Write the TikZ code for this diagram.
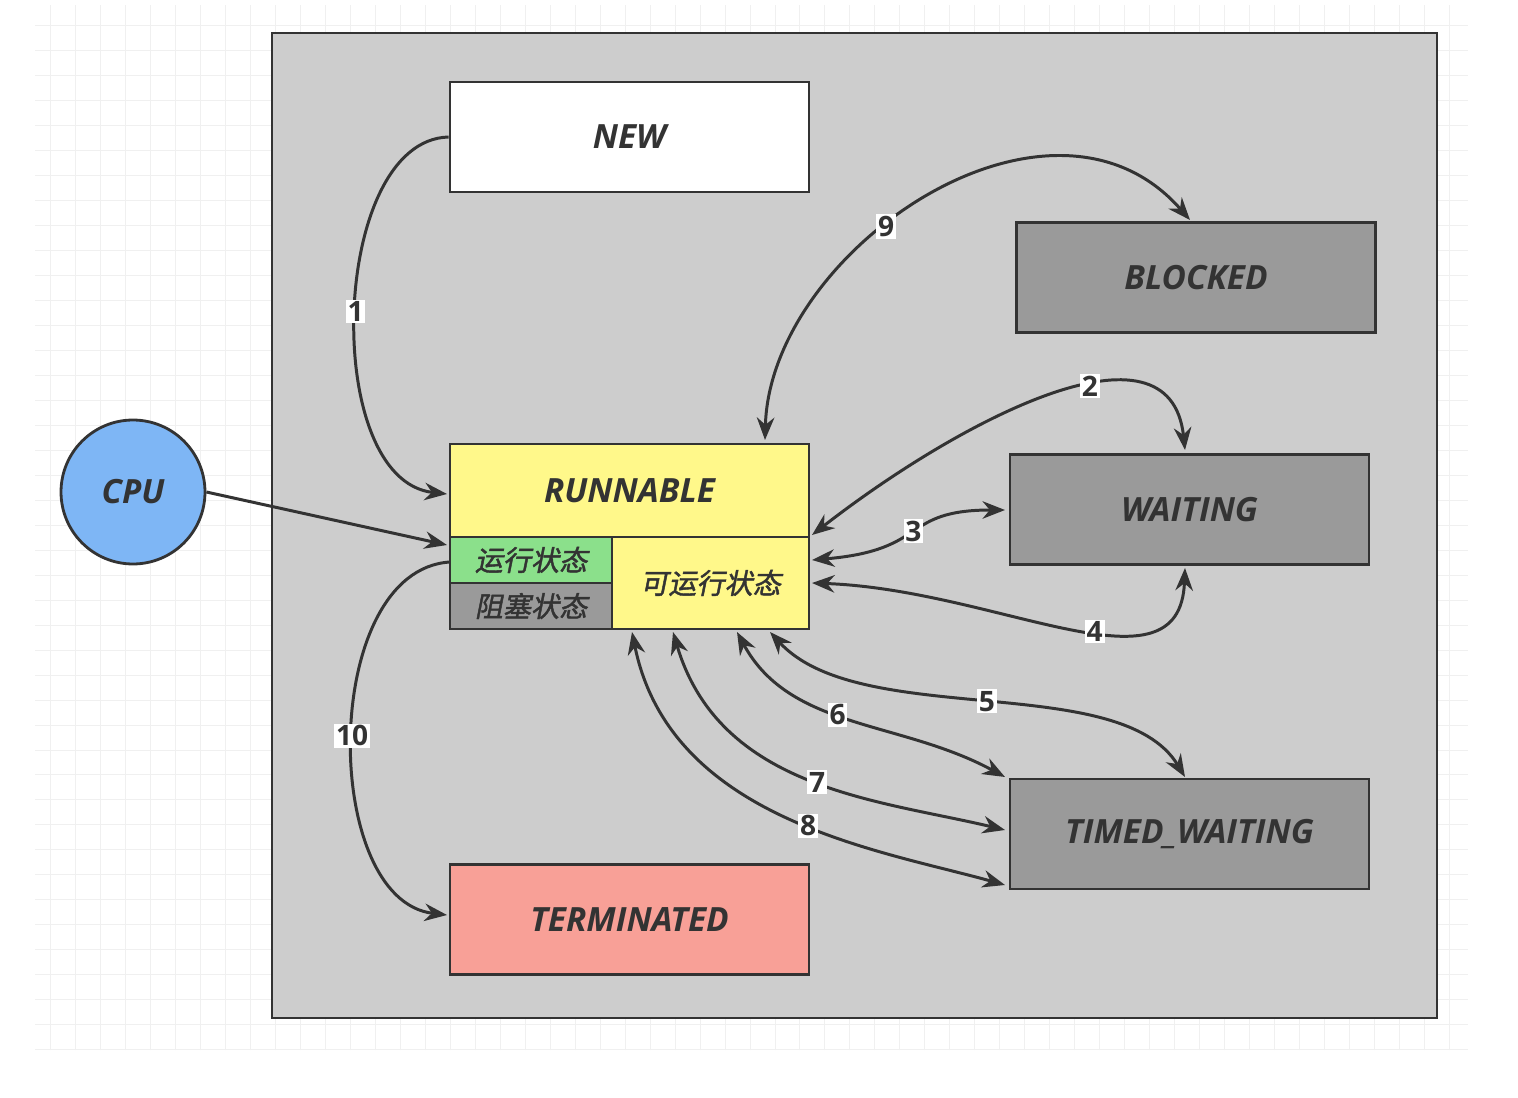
\documentclass[tikz,border=0pt]{standalone}
\usepackage{fontspec}
\setmainfont{Open Sans}
\newfontfamily\cjk[FakeSlant=0.2,FakeBold=1.5]{Noto Sans CJK SC}
\usepackage{tikz}
\usetikzlibrary{arrows.meta, positioning, calc}
\definecolor{paneGray}{HTML}{CDCDCD}
\definecolor{stateGray}{HTML}{9A9A9A}
\definecolor{runYellow}{HTML}{FFF88A}
\definecolor{runGreen}{HTML}{8BE08B}
\definecolor{termRed}{HTML}{F8A097}
\definecolor{cpuBlue}{HTML}{7EB6F5}
\definecolor{lineDark}{HTML}{333333}
\tikzstyle{state} = [rectangle, draw=lineDark, line width=1.6pt, minimum width=7.18cm, minimum height=2.2cm, font=\fontsize{19}{22}\selectfont\bfseries\itshape, text=lineDark]
\tikzstyle{subState} = [rectangle, draw=lineDark, line width=1.6pt, font=\fontsize{16}{18}\selectfont\cjk, text=lineDark]
\tikzstyle{trans} = [{Stealth[length=4.5mm, width=3.5mm]}-{Stealth[length=4.5mm, width=3.5mm]}, lineDark, line width=1.7pt]
\tikzstyle{transOne} = [-{Stealth[length=4.5mm, width=3.5mm]}, lineDark, line width=1.7pt]
\tikzstyle{stepLabel} = [fill=white, inner sep=1pt, font=\fontsize{16}{18}\selectfont\bfseries, text=lineDark]

\begin{document}
\begin{tikzpicture}[x=0.02cm, y=-0.02cm]
    % Canvas and grid
    \useasboundingbox (0,0) rectangle (1518,1098);
    \fill[white] (0,0) rectangle (1518,1098);
    \draw[gray!12, line width=0.4pt, step=0.5cm] (35,5) grid (1468,1050);
    \draw[lineDark, line width=1.4pt, fill=paneGray] (272,33) rectangle (1437,1018);

    % States
    \node[state, fill=white] (new) at (629.5,137) {NEW};
    \node[state, fill=stateGray] (blocked) at (1196,277.5) {BLOCKED};
    \node[state, fill=stateGray] (waiting) at (1189.5,509.5) {WAITING};
    \node[state, fill=stateGray] (timed) at (1189.5,834) {TIMED\_WAITING};
    \node[state, fill=termRed] (term) at (629.5,919.5) {TERMINATED};
    \node[state, fill=runYellow, minimum height=1.86cm] (run) at (629.5,490.5) {RUNNABLE};

    % Runnable sub states
    \node[subState, fill=runGreen, minimum width=3.24cm, minimum height=0.92cm] (running) at (531,560) {运行状态};
    \node[subState, fill=stateGray, minimum width=3.24cm, minimum height=0.92cm] (stuck) at (531,606) {阻塞状态};
    \node[subState, fill=runYellow, minimum width=3.94cm, minimum height=1.84cm] (ready) at (710.5,583) {可运行状态};

    % CPU
    \node[circle, draw=lineDark, line width=1.6pt, fill=cpuBlue, minimum size=2.88cm, font=\fontsize{19}{22}\selectfont\bfseries\itshape, text=lineDark] (cpu) at (133,492) {CPU};

    % Transitions
    \draw[transOne] (new.west) .. controls (330,140) and (320,480) .. (447,494) node[stepLabel, pos=0.5] {1};
    \draw[transOne] (cpu.east) -- (447,545);
    \draw[trans] (765,440) .. controls (770,250) and (1050,60) .. (1190,220) node[stepLabel, pos=0.42] {9};
    \draw[trans] (812,535) .. controls (960,420) and (1170,310) .. (1185,450) node[stepLabel, pos=0.6] {2};
    \draw[trans] (812,560) .. controls (930,550) and (900,510) .. (1005,510) node[stepLabel, pos=0.5] {3};
    \draw[trans] (812,583) .. controls (1000,590) and (1180,700) .. (1185,568) node[stepLabel, pos=0.57] {4};
    \draw[trans] (770,632) .. controls (860,730) and (1120,670) .. (1185,777) node[stepLabel, pos=0.5] {5};
    \draw[trans] (737,632) .. controls (790,730) and (900,720) .. (1005,777) node[stepLabel, pos=0.45] {6};
    \draw[trans] (673,632) .. controls (720,790) and (880,800) .. (1005,830) node[stepLabel, pos=0.52] {7};
    \draw[trans] (632,632) .. controls (670,820) and (880,850) .. (1005,885) node[stepLabel, pos=0.55] {8};
    \draw[transOne] (450,562) .. controls (320,570) and (320,900) .. (447,915) node[stepLabel, pos=0.5] {10};
\end{tikzpicture}
\end{document}
